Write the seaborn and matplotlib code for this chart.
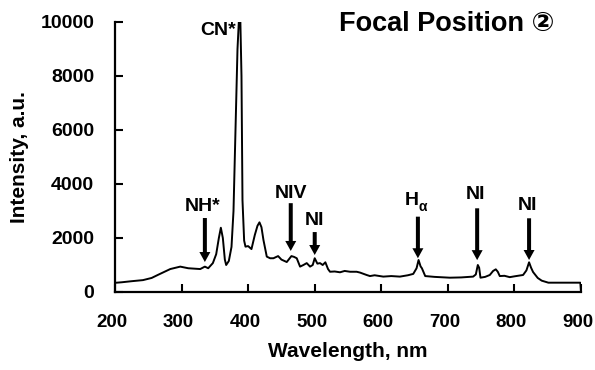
import numpy as np
import pandas as pd
import matplotlib
matplotlib.use("Agg")
import matplotlib.pyplot as plt
import matplotlib.transforms as mtransforms
import seaborn as sns

wavelength = [200, 210, 225, 242, 255, 265, 283, 298, 310, 328, 335, 340, 347, 352, 356, 359,
              362, 365, 367, 371, 375, 378, 381, 384, 386, 388, 390, 391.5, 394, 396, 400,
              405, 410, 414, 417, 420, 423, 428, 433, 438, 445, 450, 458, 465, 469, 473, 478,
              483, 488, 493, 497, 500, 504, 508, 512, 516, 520, 523, 530, 538, 545, 553, 563,
              568, 578, 583, 590, 603, 615, 628, 640, 648, 653, 656, 659, 661, 666, 680, 703,
              720, 738, 742, 745, 747, 749, 756, 763, 768, 772, 775, 778, 785, 793, 800, 813,
              818, 822, 825, 828, 835, 841, 851, 870, 899, 900]
intensity = [340, 360, 400, 440, 520, 640, 850, 940, 880, 850, 940, 880, 1070, 1400, 2000, 2380,
             2000, 1200, 1000, 1150, 1670, 3000, 6000, 9000, 10000, 10400, 8000, 3400, 1900, 1680, 1700,
             1590, 2110, 2450, 2580, 2400, 1925, 1310, 1250, 1250, 1330, 1200, 1110, 1330, 1300, 1250, 940,
             1000, 1070, 940, 1000, 1250, 1050, 1070, 1000, 1100, 850, 750, 760, 730, 780, 750, 750,
             720, 630, 590, 620, 570, 590, 570, 620, 670, 880, 1185, 950, 880, 590, 560, 530,
             540, 570, 650, 1000, 900, 530, 560, 630, 780, 840, 750, 590, 600, 550, 580, 630,
             800, 1100, 900, 740, 520, 420, 345, 345, 345, 0]

# peak annotations
peak_labels = ["NH*", "NIV", "NI", "NI", "NI"]
label_x = [332, 464, 500, 742, 820]
label_y = [3150, 3660, 2660, 3600, 3220]
arrow_x = [335, 464, 500, 744, 822]
arrow_tail = [2740, 3290, 2220, 3100, 2730]
arrow_tip = [1110, 1520, 1370, 1180, 1185]

halpha_x = 655
halpha_label_y = 3400
halpha_tail = 2790
halpha_tip = 1250

cn_x = 355
cn_y = 9700

x_ticks = [200, 300, 400, 500, 600, 700, 800, 900]
y_ticks = [0, 2000, 4000, 6000, 8000, 10000]

sns.set_style("ticks")
plt.rcParams["font.family"] = ["Liberation Sans", "DejaVu Sans"]
plt.rcParams["font.weight"] = "bold"
for k in ["text.color", "axes.labelcolor", "xtick.color", "ytick.color", "axes.edgecolor"]:
    plt.rcParams[k] = "black"

fig = plt.figure(figsize=(5.95, 3.70), dpi=100)
ax = fig.add_axes([115/595, 1 - 292/370, 466/595, 270/370])

df = pd.DataFrame({"Wavelength": wavelength, "Intensity": intensity})
sns.lineplot(data=df, x="Wavelength", y="Intensity", ax=ax, color="black", lw=1.4,
             sort=False, estimator=None)

ax.set_xlim(200, 900)
ax.set_ylim(0, 10000)
ax.set_xticks(x_ticks)
ax.set_yticks(y_ticks)
ax.set_xticklabels([str(t) for t in x_ticks], fontsize=13.5, fontweight="bold")
ax.set_yticklabels([str(t) for t in y_ticks], fontsize=14, fontweight="bold")
ax.tick_params(direction="in", length=6, width=1.5, color="black", labelcolor="black")
ax.tick_params(axis="x", pad=16)
ax.tick_params(axis="y", pad=15)
shift = mtransforms.ScaledTranslation(-3/100, 0, fig.dpi_scale_trans)
for lbl in ax.get_xticklabels():
    lbl.set_transform(lbl.get_transform() + shift)
for s in ["top", "right"]:
    ax.spines[s].set_visible(False)
for s in ["left", "bottom"]:
    ax.spines[s].set_linewidth(1.6)
    ax.spines[s].set_color("black")

ax.set_xlabel("Wavelength, nm", fontsize=15, fontweight="bold", labelpad=8, color="black")
ax.set_ylabel("Intensity, a.u.", fontsize=15, fontweight="bold", labelpad=8, color="black")

px_per_nm = 466 / 700.0
px_per_unit = 270 / 10000.0
shaft_w = 4 / px_per_nm
head_w = 11 / px_per_nm
head_l = 10 / px_per_unit

def draw_arrow(x, tail, tip):
    ax.add_patch(matplotlib.patches.FancyArrow(
        x, tail, 0, tip - tail, width=shaft_w, head_width=head_w, head_length=head_l,
        length_includes_head=True, color="black", lw=0, clip_on=False))

for lab, lx, ly, axx, t0, t1 in zip(peak_labels, label_x, label_y, arrow_x, arrow_tail, arrow_tip):
    ax.text(lx, ly, lab, ha="center", va="center", fontsize=14, fontweight="bold", color="black")
    draw_arrow(axx, t0, t1)

ax.text(halpha_x + 1, halpha_label_y, "H", ha="right", va="center", fontsize=14, fontweight="bold", color="black")
ax.text(halpha_x + 1, halpha_label_y - 250, "α", ha="left", va="center", fontsize=10, fontweight="bold", color="black")
draw_arrow(halpha_x, halpha_tail, halpha_tip)

ax.text(cn_x, cn_y, "CN*", ha="center", va="center", fontsize=14, fontweight="bold", color="black")

fig.text(447/595, 1 - 23.5/370, "Focal Position ②", ha="center", va="center",
         fontsize=19.5, fontweight="bold", color="black", family=["Liberation Sans", "DejaVu Sans"])

fig.savefig("out.png", dpi=100)
